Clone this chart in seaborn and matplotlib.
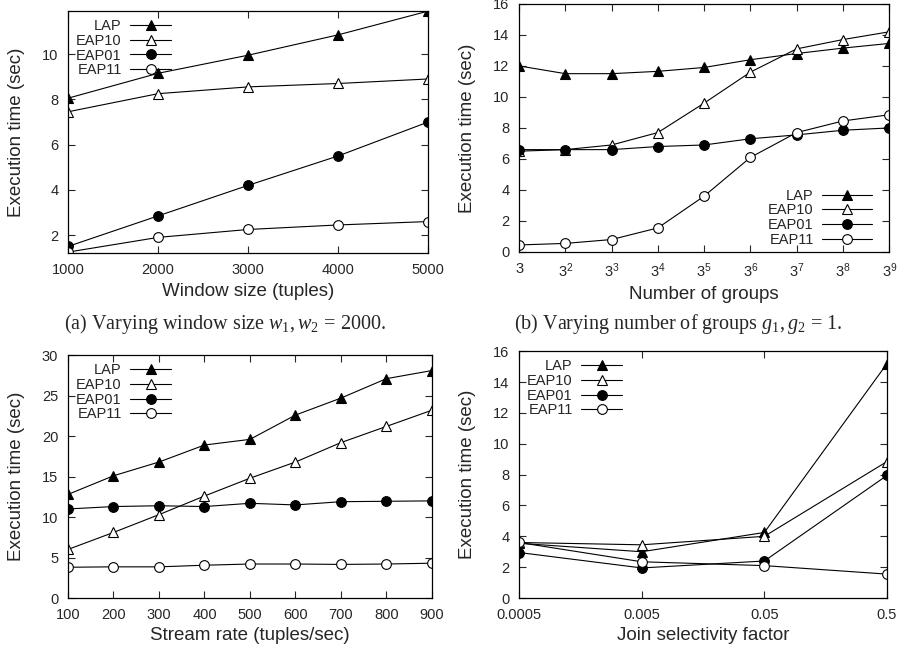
import numpy as np
import pandas as pd
import matplotlib
matplotlib.use("Agg")
import matplotlib.pyplot as plt
import seaborn as sns

sns.set_style("ticks")
plt.rcParams['font.family'] = ['Liberation Sans', 'DejaVu Sans']
plt.rcParams['mathtext.fontset'] = 'custom'
plt.rcParams['mathtext.rm'] = 'Liberation Serif'
plt.rcParams['mathtext.it'] = 'Liberation Serif:italic'
plt.rcParams['mathtext.sf'] = 'Liberation Sans'

series = ["LAP", "EAP10", "EAP01", "EAP11"]

# (a) window size
window = [1000, 2000, 3000, 4000, 5000]
a_lap = [8.05, 9.15, 9.95, 10.85, 11.9]
a_eap10 = [7.45, 8.25, 8.55, 8.7, 8.9]
a_eap01 = [1.5, 2.85, 4.2, 5.5, 7.0]
a_eap11 = [1.25, 1.9, 2.25, 2.45, 2.6]

# (b) number of groups (3^k)
groups_exp = [1, 2, 3, 4, 5, 6, 7, 8, 9]
b_lap = [12.0, 11.5, 11.5, 11.65, 11.9, 12.4, 12.8, 13.15, 13.45]
b_eap10 = [6.5, 6.6, 6.9, 7.7, 9.6, 11.6, 13.1, 13.7, 14.2]
b_eap01 = [6.6, 6.6, 6.6, 6.8, 6.9, 7.3, 7.55, 7.85, 8.0]
b_eap11 = [0.45, 0.55, 0.8, 1.55, 3.6, 6.1, 7.7, 8.45, 8.85]

# (c) stream rate
rate = [100, 200, 300, 400, 500, 600, 700, 800, 900]
c_lap = [12.8, 15.1, 16.8, 18.9, 19.6, 22.6, 24.7, 27.1, 28.1]
c_eap10 = [6.0, 8.1, 10.3, 12.6, 14.8, 16.8, 19.2, 21.2, 23.2]
c_eap01 = [11.0, 11.3, 11.4, 11.3, 11.7, 11.5, 11.9, 11.95, 12.0]
c_eap11 = [3.8, 3.85, 3.85, 4.05, 4.2, 4.2, 4.15, 4.2, 4.3]

# (d) join selectivity
selectivity = [0.0005, 0.005, 0.05, 0.5]
sel_labels = ["0.0005", "0.005", "0.05", "0.5"]
d_lap = [3.55, 3.0, 4.25, 15.2]
d_eap10 = [3.6, 3.45, 4.0, 8.85]
d_eap01 = [2.95, 1.95, 2.4, 7.95]
d_eap11 = [3.6, 2.35, 2.1, 1.55]

styles = {
    "LAP": dict(marker="^", mfc="black", ms=7),
    "EAP10": dict(marker="^", mfc="white", ms=7),
    "EAP01": dict(marker="o", mfc="black", ms=7),
    "EAP11": dict(marker="o", mfc="white", ms=7),
}


def draw(ax, x, ys, loc, hl=2.8):
    for name, y in zip(series, ys):
        sns.lineplot(x=x, y=y, ax=ax, color="black", lw=0.8, mec="black",
                     mew=0.8, label=name, **styles[name])
    ax.tick_params(direction="in", top=True, right=True, length=5,
                   labelsize=10.5, pad=7)
    for s in ax.spines.values():
        s.set_linewidth(0.9)
        s.set_color("black")
    ax.set_ylabel("Execution time (sec)", fontsize=13.5, labelpad=12)
    leg = ax.legend(loc=loc, frameon=False,
                    markerfirst=False, fontsize=10.5, handlelength=hl,
                    labelspacing=0.05, handletextpad=0.6, borderaxespad=0.15)
    # gnuplot-like key: labels right-aligned against the samples
    for col in leg._legend_handle_box.get_children():
        col.align = "right"


fig = plt.figure(figsize=(9.03, 6.51), dpi=100)
ax1 = fig.add_axes([0.0753, 0.611, 0.399, 0.372])
ax2 = fig.add_axes([0.5748, 0.613, 0.41, 0.381])
ax3 = fig.add_axes([0.0753, 0.0814, 0.403, 0.373])
ax4 = fig.add_axes([0.5748, 0.0814, 0.4075, 0.379])

draw(ax1, window, [a_lap, a_eap10, a_eap01, a_eap11], "upper left")
ax1.set_xlim(1000, 5000)
ax1.set_ylim(1.2, 11.9)
ax1.set_xticks(window)
ax1.set_yticks([2, 4, 6, 8, 10])
ax1.set_xlabel("Window size (tuples)", fontsize=13.5)

groups = [3 ** k for k in groups_exp]
draw(ax2, groups, [b_lap, b_eap10, b_eap01, b_eap11], "lower right", hl=3.4)
ax2.set_xscale("log", base=3)
ax2.set_xlim(3, 3 ** 9)
ax2.set_xticks(groups)
ax2.set_xticklabels(["3"] + [r"$\mathsf{3^{%d}}$" % k for k in groups_exp[1:]])
ax2.minorticks_off()
ax2.set_ylim(0, 16)
ax2.set_yticks(range(0, 17, 2))
ax2.set_xlabel("Number of groups", fontsize=13.5)
ax2.get_legend().set_bbox_to_anchor((0.975, -0.012), transform=ax2.transAxes)

draw(ax3, rate, [c_lap, c_eap10, c_eap01, c_eap11], "upper left")
ax3.set_xlim(100, 900)
ax3.set_ylim(0, 30)
ax3.set_xticks(rate)
ax3.set_yticks(range(0, 31, 5))
ax3.set_xlabel("Stream rate (tuples/sec)", fontsize=13.5)

draw(ax4, selectivity, [d_lap, d_eap10, d_eap01, d_eap11], "upper left")
ax4.set_xscale("log")
ax4.set_xlim(0.0005, 0.5)
ax4.set_xticks(selectivity)
ax4.set_xticklabels(sel_labels)
ax4.minorticks_off()
ax4.set_ylim(0, 16)
ax4.set_yticks(range(0, 17, 2))
ax4.set_xlabel("Join selectivity factor", fontsize=13.5)

fig.text(0.2498, 0.503, r"(a) Varying window size $w_1, w_2\,=\,2000$.",
         family="Liberation Serif", fontsize=14.5, ha="center", va="center")
fig.text(0.751, 0.503, r"(b) Varying number of groups $g_1, g_2\,=\,1$.",
         family="Liberation Serif", fontsize=14.5, ha="center", va="center")

fig.savefig("out.png", dpi=100)
